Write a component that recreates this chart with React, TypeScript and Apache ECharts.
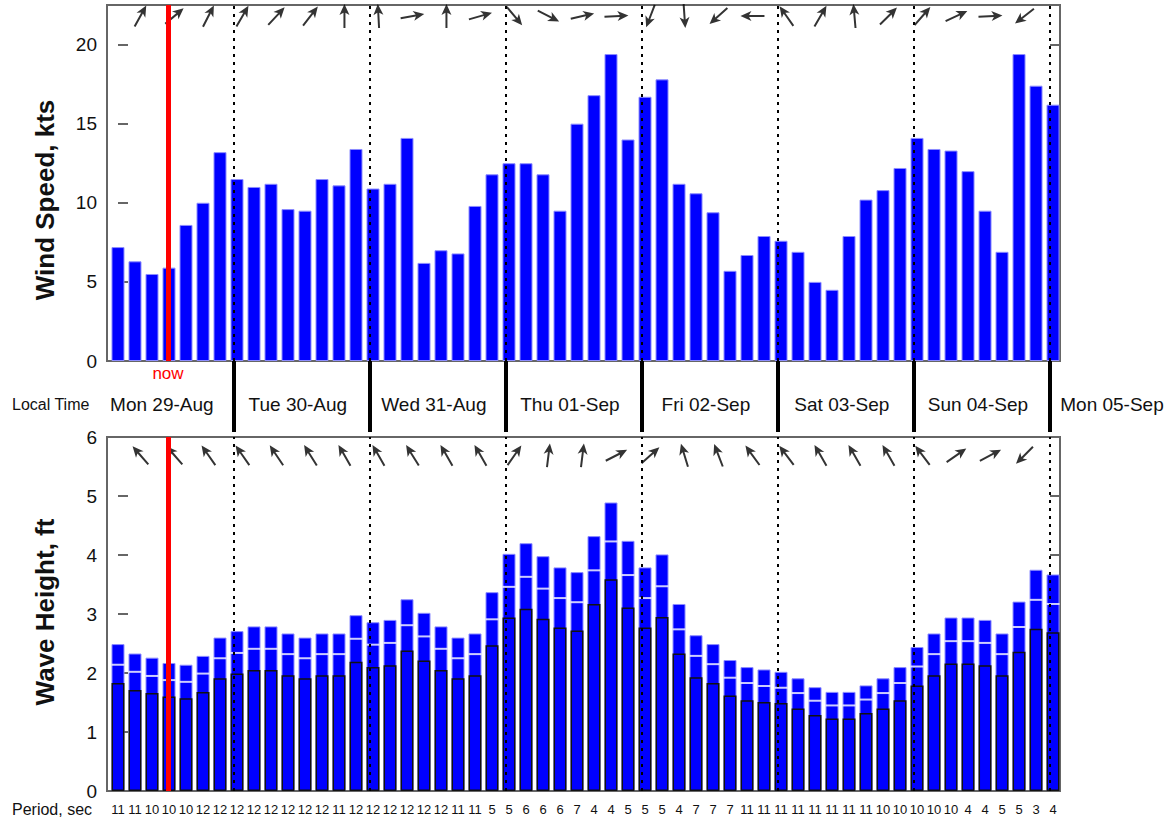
import React, { useEffect, useRef } from 'react';
import * as echarts from 'echarts';

// ---- data (3-hourly steps) ----
const windSpeed = [
  7.2, 6.3, 5.5, 5.9, 8.6, 10.0, 13.2,
  11.5, 11.0, 11.2, 9.6, 9.5, 11.5, 11.1, 13.4,
  10.9, 11.2, 14.1, 6.2, 7.0, 6.8, 9.8, 11.8,
  12.5, 12.5, 11.8, 9.5, 15.0, 16.8, 19.4, 14.0,
  16.7, 17.8, 11.2, 10.6, 9.4, 5.7, 6.7, 7.9,
  7.6, 6.9, 5.0, 4.5, 7.9, 10.2, 10.8, 12.2,
  14.1, 13.4, 13.3, 12.0, 9.5, 6.9, 19.4, 17.4,
  16.2,
];
const waveMax = [
  2.49, 2.33, 2.26, 2.17, 2.14, 2.29, 2.60,
  2.71, 2.79, 2.79, 2.67, 2.60, 2.67, 2.67, 2.98,
  2.86, 2.90, 3.25, 3.02, 2.79, 2.60, 2.67, 3.37,
  4.02, 4.20, 3.98, 3.79, 3.71, 4.32, 4.89, 4.24,
  3.79, 4.01, 3.17, 2.64, 2.49, 2.22, 2.10, 2.06,
  2.02, 1.91, 1.76, 1.68, 1.68, 1.79, 1.91, 2.10,
  2.44, 2.67, 2.94, 2.94, 2.90, 2.67, 3.21, 3.75,
  3.67,
];
const waveMid = [
  2.14, 2.02, 1.95, 1.88, 1.85, 1.99, 2.25,
  2.34, 2.41, 2.41, 2.32, 2.25, 2.32, 2.32, 2.58,
  2.48, 2.51, 2.81, 2.62, 2.41, 2.25, 2.32, 2.91,
  3.46, 3.63, 3.43, 3.27, 3.20, 3.74, 4.23, 3.66,
  3.27, 3.47, 2.74, 2.29, 2.15, 1.92, 1.83, 1.78,
  1.75, 1.66, 1.53, 1.45, 1.45, 1.55, 1.66, 1.83,
  2.11, 2.32, 2.54, 2.54, 2.51, 2.32, 2.78, 3.24,
  3.17,
];
const waveLow = [
  1.83, 1.71, 1.66, 1.60, 1.57, 1.68, 1.91,
  1.99, 2.05, 2.05, 1.96, 1.91, 1.96, 1.96, 2.19,
  2.10, 2.13, 2.38, 2.21, 2.05, 1.91, 1.96, 2.47,
  2.94, 3.09, 2.92, 2.77, 2.72, 3.17, 3.59, 3.11,
  2.77, 2.95, 2.33, 1.93, 1.83, 1.62, 1.54, 1.51,
  1.49, 1.40, 1.29, 1.23, 1.23, 1.32, 1.40, 1.54,
  1.79, 1.96, 2.16, 2.16, 2.13, 1.96, 2.36, 2.75,
  2.69,
];
const periods = [
  11, 11, 10, 10, 10, 12, 12,
  12, 12, 12, 12, 12, 12, 11, 12,
  12, 12, 12, 12, 12, 11, 11, 5,
  5, 6, 6, 6, 7, 4, 4, 5,
  5, 5, 4, 7, 7, 7, 11, 11,
  11, 11, 11, 11, 11, 11, 10, 10,
  10, 10, 10, 4, 4, 5, 5, 3,
  4, 4,
].slice(0, 56);
// direction the arrow points (degrees clockwise from north), one per 6 h
const windDir = [29, 50, 27, 30, 43, 38, 0, -3, 80, 0, 74, 140, 117, 77, 87, 201, 176, 228, 270, 325, 30, -5, 45, 41, 65, 87, 232];
const waveDir = [319, 319, 325, 325, 326, 328, 330, 330, 328, 330, 330, 35, 7, 7, 63, 48, 343, 339, 324, 323, 330, 330, 330, 323, 55, 62, 225];
const dayLabels = ['Mon 29-Aug', 'Tue 30-Aug', 'Wed 31-Aug', 'Thu 01-Sep', 'Fri 02-Sep', 'Sat 03-Sep', 'Sun 04-Sep', 'Mon 05-Sep'];
// midnight positions, in bar-index units
const dayStarts = [6.82, 14.82, 22.82, 30.82, 38.82, 46.82, 54.82];
const nowPos = 2.94;
const yTicksWind = { min: 0, max: 22.5, interval: 5 };
const yTicksWave = { min: 0, max: 6, interval: 1 };

const X_MIN = -0.647;
const X_MAX = 55.41;
const FONT = '"Liberation Sans", Arial, Helvetica, sans-serif';
const TXT = '#111';
const ARROW = 'path://M5,0 L10.5,11 L6.1,8.6 L6.1,24 L3.9,24 L3.9,8.6 L-0.5,11 Z';

export default function App() {
  const ref = useRef<HTMLDivElement>(null);
  useEffect(() => {
    if (!ref.current) return;
    const chart = echarts.init(ref.current, null, { renderer: 'svg' });
    const labelVals = [...dayStarts.map((d) => d - 4.24), X_MAX];
    const dotted = dayStarts.map((x) => ({
      xAxis: x,
      lineStyle: { type: [3, 5], color: '#000', width: 2 },
    }));
    const yTickCommon = {
      axisLine: { show: false },
      splitLine: { show: false },
      axisTick: { inside: true, length: 10, lineStyle: { color: '#666', width: 2 } },
    };
    const option: any = {
      animation: false,
      backgroundColor: '#fff',
      textStyle: { fontFamily: FONT },
      grid: [
        { left: 107, right: 110, top: 5, height: 356, show: true, borderColor: '#666', borderWidth: 2, backgroundColor: 'transparent' },
        { left: 107, right: 110, top: 437, height: 354, show: true, borderColor: '#666', borderWidth: 2, backgroundColor: 'transparent' },
      ],
      xAxis: [
        {
          gridIndex: 0, type: 'value', min: X_MIN, max: X_MAX, position: 'bottom',
          axisLine: { show: false }, splitLine: { show: false },
          axisTick: { show: true, customValues: dayStarts, length: 71, inside: false, lineStyle: { color: '#000', width: 4 } },
          axisLabel: {
            customValues: labelVals, showMinLabel: true, showMaxLabel: true,
            margin: 34, fontSize: 19, color: TXT, fontFamily: FONT,
            formatter: (v: number) => {
              const i = labelVals.findIndex((x) => Math.abs(x - v) < 1e-6);
              if (i < 0) return '';
              return i === labelVals.length - 1 ? `{far|${dayLabels[i]}}` : dayLabels[i];
            },
            rich: { far: { padding: [0, 0, 0, 104], fontSize: 19, color: TXT, fontFamily: FONT } },
          },
        },
        {
          gridIndex: 1, type: 'value', min: X_MIN, max: X_MAX, position: 'bottom',
          axisLine: { show: false }, splitLine: { show: false }, axisTick: { show: false },
          axisLabel: {
            customValues: periods.map((_, i) => i), showMinLabel: true, showMaxLabel: true,
            margin: 12, fontSize: 13, color: TXT, fontFamily: FONT,
            formatter: (v: number) => String(periods[Math.round(v)] ?? ''),
          },
        },
      ],
      yAxis: [
        {
          gridIndex: 0, type: 'value', ...yTicksWind, position: 'left', ...yTickCommon,
          axisLabel: { fontSize: 19, color: TXT, margin: 10, fontFamily: FONT, showMaxLabel: false },
        },
        {
          gridIndex: 0, type: 'value', ...yTicksWind, position: 'right', ...yTickCommon,
          axisLabel: { show: false },
        },
        {
          gridIndex: 1, type: 'value', ...yTicksWave, position: 'left', ...yTickCommon,
          axisLabel: { fontSize: 19, color: TXT, margin: 10, fontFamily: FONT },
        },
        {
          gridIndex: 1, type: 'value', ...yTicksWave, position: 'right', ...yTickCommon,
          axisLabel: { show: false },
        },
      ],
      series: [
        {
          type: 'bar', xAxisIndex: 0, yAxisIndex: 0, barWidth: 13,
          data: windSpeed.map((v, i) => [i, v]),
          itemStyle: { color: '#0000ff', borderColor: '#8c8cff', borderWidth: 1 },
          markLine: {
            silent: true, symbol: ['none', 'none'], animation: false,
            label: { show: false },
            data: [
              ...dotted,
              {
                xAxis: nowPos,
                lineStyle: { color: '#ff0000', width: 5, type: 'solid' },
                label: { show: true, position: 'start', formatter: 'now', color: '#ff0000', fontSize: 17, distance: 4, fontFamily: FONT },
              },
            ],
          },
        },
        {
          type: 'scatter', xAxisIndex: 0, yAxisIndex: 0, silent: true,
          symbol: ARROW, symbolSize: [10, 24],
          itemStyle: { color: '#000' },
          data: windDir.map((a, k) => ({ value: [2 * k + 1 + 0.32, 21.8], symbolRotate: -a })),
        },
        {
          type: 'bar', xAxisIndex: 1, yAxisIndex: 2, barWidth: 13, barGap: '-100%',
          data: waveMax.map((v, i) => [i, v]),
          itemStyle: { color: '#0000ff', borderColor: '#8c8cff', borderWidth: 1 },
        },
        {
          type: 'bar', xAxisIndex: 1, yAxisIndex: 2, barWidth: 13, barGap: '-100%',
          data: waveLow.map((v, i) => [i, v]),
          itemStyle: { color: '#0000ff', borderColor: '#111', borderWidth: 1.5 },
        },
        {
          type: 'scatter', xAxisIndex: 1, yAxisIndex: 2, silent: true,
          symbol: 'rect', symbolSize: [13, 2],
          itemStyle: { color: '#ffffff' },
          data: waveMid.map((v, i) => [i, v]),
          markLine: {
            silent: true, symbol: ['none', 'none'], animation: false,
            label: { show: false },
            data: [
              ...dotted,
              { xAxis: nowPos, lineStyle: { color: '#ff0000', width: 5, type: 'solid' } },
            ],
          },
        },
        {
          type: 'scatter', xAxisIndex: 1, yAxisIndex: 2, silent: true,
          symbol: ARROW, symbolSize: [10, 24],
          itemStyle: { color: '#000' },
          data: waveDir.map((a, k) => ({ value: [2 * k + 1 + 0.32, 5.69], symbolRotate: -a })),
        },
      ],
      graphic: [
        { type: 'text', left: 12, top: 396, style: { text: 'Local Time', font: `16px ${FONT}`, fill: TXT } },
        { type: 'text', left: 12, top: 801, style: { text: 'Period, sec', font: `16px ${FONT}`, fill: TXT } },
        {
          type: 'text', x: 45, y: 200, rotation: Math.PI / 2,
          style: { text: 'Wind Speed, kts', font: `bold 26px ${FONT}`, fill: TXT, align: 'center', verticalAlign: 'middle' },
        },
        {
          type: 'text', x: 45, y: 612, rotation: Math.PI / 2,
          style: { text: 'Wave Height, ft', font: `bold 26px ${FONT}`, fill: TXT, align: 'center', verticalAlign: 'middle' },
        },
      ],
    };
    chart.setOption(option);
    return () => chart.dispose();
  }, []);
  return (
    <div
      ref={ref}
      style={{ position: 'absolute', left: 0, top: 0, width: 1170, height: 824, background: '#fff' }}
    />
  );
}
